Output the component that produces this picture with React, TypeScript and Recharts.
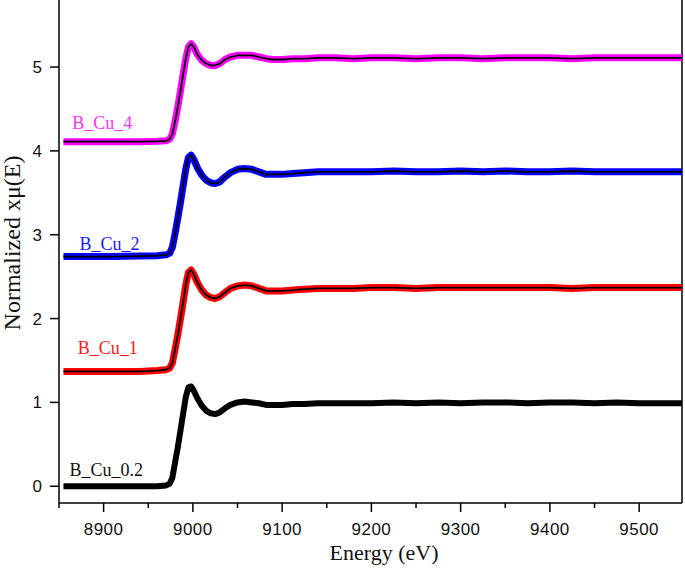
import React from 'react';
import { LineChart, Line, XAxis, YAxis, ReferenceLine, ReferenceDot, Label } from 'recharts';

const energy = [8855, 8880, 8910, 8940, 8960, 8970, 8974, 8977, 8980, 8983, 8986, 8989, 8992, 8995, 8998, 9001, 9005, 9010, 9015, 9020, 9025, 9030, 9036, 9042, 9050, 9058, 9066, 9074, 9082, 9090, 9100, 9112, 9125, 9140, 9160, 9180, 9200, 9225, 9250, 9275, 9300, 9325, 9350, 9375, 9400, 9425, 9450, 9475, 9500, 9525, 9548];

const cu02 = [0.0, 0.0, 0.0, 0.0, 0.0, 0.01, 0.03, 0.10, 0.28, 0.46, 0.66, 0.86, 1.06, 1.18, 1.19, 1.14, 1.05, 0.96, 0.90, 0.87, 0.86, 0.88, 0.93, 0.97, 1.0, 1.01, 1.0, 0.99, 0.97, 0.97, 0.97, 0.98, 0.98, 0.99, 0.99, 0.99, 0.99, 1.0, 0.99, 1.0, 0.99, 1.0, 1.0, 0.99, 1.0, 1.0, 0.99, 1.0, 0.99, 0.99, 0.99];

const cu1 = [1.37, 1.37, 1.37, 1.37, 1.38, 1.39, 1.41, 1.47, 1.63, 1.80, 1.99, 2.19, 2.40, 2.55, 2.58, 2.53, 2.43, 2.34, 2.28, 2.25, 2.24, 2.26, 2.31, 2.36, 2.39, 2.40, 2.39, 2.36, 2.33, 2.33, 2.33, 2.34, 2.35, 2.36, 2.36, 2.36, 2.37, 2.37, 2.36, 2.37, 2.37, 2.37, 2.37, 2.37, 2.37, 2.36, 2.37, 2.37, 2.37, 2.37, 2.37];

const cu2 = [2.74, 2.74, 2.74, 2.745, 2.75, 2.76, 2.78, 2.85, 3.01, 3.19, 3.38, 3.58, 3.78, 3.92, 3.95, 3.90, 3.80, 3.71, 3.65, 3.62, 3.61, 3.63, 3.69, 3.74, 3.78, 3.79, 3.78, 3.75, 3.72, 3.72, 3.72, 3.73, 3.74, 3.75, 3.75, 3.75, 3.75, 3.76, 3.75, 3.75, 3.76, 3.75, 3.76, 3.75, 3.75, 3.76, 3.75, 3.75, 3.75, 3.75, 3.75];

const cu4 = [4.11, 4.11, 4.11, 4.11, 4.115, 4.12, 4.14, 4.20, 4.35, 4.52, 4.71, 4.91, 5.10, 5.24, 5.28, 5.24, 5.15, 5.08, 5.04, 5.02, 5.02, 5.04, 5.09, 5.12, 5.14, 5.14, 5.14, 5.12, 5.10, 5.09, 5.09, 5.10, 5.10, 5.11, 5.11, 5.10, 5.11, 5.11, 5.10, 5.11, 5.11, 5.10, 5.11, 5.11, 5.11, 5.10, 5.11, 5.11, 5.11, 5.11, 5.11];

const xTicks = [8850, 8900, 8950, 9000, 9050, 9100, 9150, 9200, 9250, 9300, 9350, 9400, 9450, 9500];
const yTicks = [0, 1, 2, 3, 4, 5];
const seriesNames = ['B_Cu_0.2', 'B_Cu_1', 'B_Cu_2', 'B_Cu_4'];
const xTitle = 'Energy (eV)';
const yTitle = 'Normalized xμ(E)';

const data = energy.map((e, i) => ({ e, cu02: cu02[i], cu1: cu1[i], cu2: cu2[i], cu4: cu4[i] }));

const SANS = '"Liberation Sans", Arial, sans-serif';
const SERIF = '"Liberation Serif", "Times New Roman", serif';

const XTick = (props: any) => {
  const { x, y, payload } = props;
  const major = payload.value % 100 === 0;
  return (
    <g>
      <line x1={x} x2={x} y1={y} y2={y + (major ? 9 : 5)} stroke="#000" strokeWidth={1.5} />
      {major && (
        <text x={x} y={y + 32} textAnchor="middle" fontFamily={SANS} fontSize={17} letterSpacing={0.5} fill="#111">
          {payload.value}
        </text>
      )}
    </g>
  );
};

const YTick = (props: any) => {
  const { x, y, payload } = props;
  return (
    <text x={x} y={y} dy={6} textAnchor="end" fontFamily={SANS} fontSize={17} fill="#111">
      {payload.value}
    </text>
  );
};

const labelStyle = (fill: string) => ({ fill, fontSize: 18, fontFamily: SERIF });

export default function App() {
  return (
    <div style={{ position: 'absolute', left: 0, top: 0, width: 685, height: 569, background: '#fff' }}>
      <LineChart width={685} height={569} data={data} margin={{ top: 0, right: 3, bottom: 0, left: 0 }}>
        <XAxis
          dataKey="e"
          type="number"
          domain={[8850, 9548]}
          ticks={xTicks}
          interval={0}
          allowDataOverflow
          height={66}
          tickLine={false}
          tickSize={0}
          tickMargin={0}
          tick={<XTick />}
          axisLine={{ stroke: '#000', strokeWidth: 1.5 }}
        >
          <Label
            content={() => (
              <text x={384} y={560} textAnchor="middle" fontFamily={SERIF} fontSize={22} fill="#111">
                {xTitle}
              </text>
            )}
          />
        </XAxis>
        <YAxis
          type="number"
          domain={[-0.2, 5.8]}
          ticks={yTicks}
          interval={0}
          allowDataOverflow
          width={59}
          tickSize={9}
          tickMargin={8}
          tick={<YTick />}
          tickLine={{ stroke: '#000', strokeWidth: 1.5 }}
          axisLine={{ stroke: '#000', strokeWidth: 1.5 }}
        >
          <Label
            content={() => (
              <text x={20} y={243} transform="rotate(-90 20 243)" textAnchor="middle" fontFamily={SERIF} fontSize={24} fill="#111">
                {yTitle}
              </text>
            )}
          />
        </YAxis>
        <ReferenceLine x={9548} stroke="#000" strokeWidth={1.5} />

        <Line dataKey="cu02" stroke="#000" strokeWidth={6} dot={false} isAnimationActive={false} strokeLinejoin="round" />
        <Line dataKey="cu1" stroke="#ff0000" strokeWidth={7} dot={false} isAnimationActive={false} strokeLinejoin="round" />
        <Line dataKey="cu1" stroke="#000" strokeWidth={1.8} dot={false} isAnimationActive={false} strokeLinejoin="round" />
        <Line dataKey="cu2" stroke="#0000ff" strokeWidth={7} dot={false} isAnimationActive={false} strokeLinejoin="round" />
        <Line dataKey="cu2" stroke="#000" strokeWidth={1.8} dot={false} isAnimationActive={false} strokeLinejoin="round" />
        <Line dataKey="cu4" stroke="#ff00ff" strokeWidth={7} dot={false} isAnimationActive={false} strokeLinejoin="round" />
        <Line dataKey="cu4" stroke="#000" strokeWidth={1.8} dot={false} isAnimationActive={false} strokeLinejoin="round" />

        <ReferenceDot x={8903} y={0.2} r={0} fill="none" stroke="none" label={{ value: seriesNames[0], position: 'center', ...labelStyle('#111') }} />
        <ReferenceDot x={8904.5} y={1.655} r={0} fill="none" stroke="none" label={{ value: seriesNames[1], position: 'center', ...labelStyle('#ff1a1a') }} />
        <ReferenceDot x={8906.7} y={2.89} r={0} fill="none" stroke="none" label={{ value: seriesNames[2], position: 'center', ...labelStyle('#1a1aff') }} />
        <ReferenceDot x={8898.5} y={4.34} r={0} fill="none" stroke="none" label={{ value: seriesNames[3], position: 'center', ...labelStyle('#ff33ff') }} />
      </LineChart>
    </div>
  );
}
